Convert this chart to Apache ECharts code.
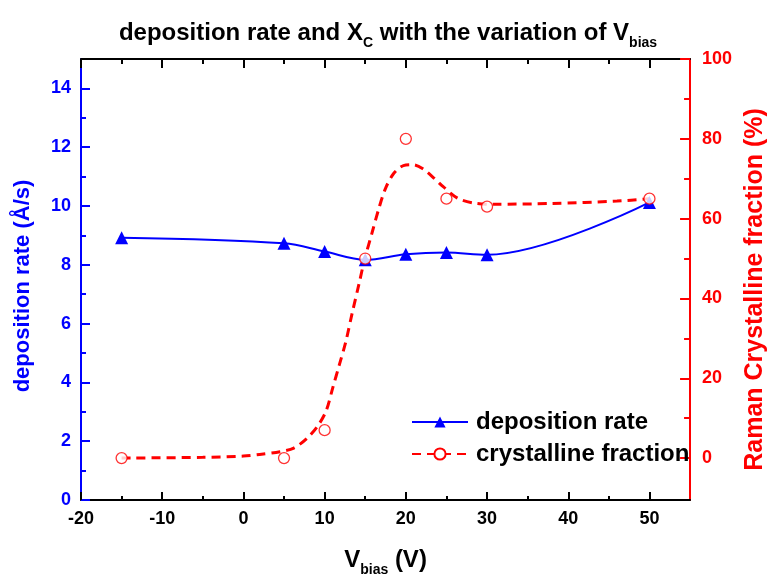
<!DOCTYPE html>
<html><head><meta charset="utf-8">
<script src="https://cdn.jsdelivr.net/npm/echarts@6/dist/echarts.min.js"></script>
<style>html,body{margin:0;padding:0;background:#fff}#c{width:776px;height:582px}</style>
</head><body><div id="c"></div>
<script>
// ---- data ----
const vbias = [-15, 5, 10, 15, 20, 25, 30, 50];
const depRate = [8.92, 8.73, 8.45, 8.17, 8.36, 8.42, 8.34, 10.12];
const crystFrac = [0, 0, 7, 50, 80, 65, 63, 65];
// fitted (dashed) curve of crystalline fraction
const fitX = [-15, -5, 0, 2, 4.5, 6.2, 7.8, 9.2, 10.2, 11, 11.8, 12.6, 13.4, 14.25, 14.9, 15.9, 16.7, 17.5, 18.5, 19.7, 20.9, 22.1, 23.55, 24.6, 26.4, 28.4, 30.8, 38, 46, 50];
const fitY = [0, 0.2, 0.5, 0.9, 1.6, 2.5, 4.9, 8.2, 11.9, 17.6, 23.3, 29.1, 36.4, 43.8, 49.6, 56.9, 62.7, 67.6, 71.3, 73.3, 73.5, 72.5, 70.0, 68.0, 65.1, 63.9, 63.6, 63.8, 64.4, 65];
// tick labels
const xMajor = [-20, -10, 0, 10, 20, 30, 40, 50];
const xMinor = [-15, -5, 5, 15, 25, 35, 45];
const yLMajor = [0, 2, 4, 6, 8, 10, 12, 14];
const yLMinor = [1, 3, 5, 7, 9, 11, 13];
const yRMajor = [0, 20, 40, 60, 80, 100];
const yRMinor = [10, 30, 50, 70, 90];

const FONT = '"Liberation Sans", Arial, sans-serif';
const BLUE = '#0000ff', RED = '#ff0000', BLACK = '#000000';
const X_RANGE = [-20, 55], YL_RANGE = [0, 15], YR_RANGE = [-10.5, 100];

function xAxisDef(pos, ticks, len, showLine, showLabel, extra) {
  return Object.assign({
    type: 'value', position: pos, min: X_RANGE[0], max: X_RANGE[1],
    axisLine: { show: showLine, onZero: false, lineStyle: { color: BLACK, width: 2 } },
    axisTick: { show: true, inside: true, length: len, customValues: ticks, lineStyle: { color: BLACK, width: 2 } },
    axisLabel: showLabel ? { show: true, customValues: ticks, color: BLACK, fontSize: 18, fontWeight: 'bold', fontFamily: FONT, margin: 10 } : { show: false },
    splitLine: { show: false }, axisPointer: { show: false }
  }, extra || {});
}
function yAxisDef(pos, range, color, ticks, len, showLine, showLabel, margin, extra) {
  return Object.assign({
    type: 'value', position: pos, min: range[0], max: range[1],
    axisLine: { show: showLine, onZero: false, lineStyle: { color: color, width: 2 } },
    axisTick: { show: true, inside: true, length: len, customValues: ticks, lineStyle: { color: color, width: 2 } },
    axisLabel: showLabel ? { show: true, customValues: ticks, color: color, fontSize: 18, fontWeight: 'bold', fontFamily: FONT, margin: margin } : { show: false },
    splitLine: { show: false }, axisPointer: { show: false }
  }, extra || {});
}

const chart = echarts.init(document.getElementById('c'), null, { renderer: 'canvas' });
chart.setOption({
  animation: false,
  backgroundColor: '#ffffff',
  title: {
    left: 'center', top: 11,
    text: '{m|deposition rate and X}{s|C}{m| with the variation of V}{s|bias}',
    textStyle: {
      rich: {
        m: { fontSize: 24, fontWeight: 'bold', fontFamily: FONT, color: BLACK, lineHeight: 34, verticalAlign: 'middle' },
        s: { fontSize: 14, fontWeight: 'bold', fontFamily: FONT, color: BLACK, lineHeight: 16, verticalAlign: 'bottom' }
      }
    }
  },
  legend: {
    orient: 'vertical', left: 406, top: 405, padding: 5,
    itemWidth: 56, itemHeight: 14, itemGap: 8,
    data: ['deposition rate', 'crystalline fraction'],
    textStyle: { fontSize: 24, fontWeight: 'bold', fontFamily: FONT, color: BLACK, lineHeight: 24, padding: [0, 0, 0, 3] }
  },
  grid: { left: 81, right: 77, top: 59, bottom: 74, containLabel: false },
  xAxis: [
    xAxisDef('bottom', xMajor, 8, true, true, {
      name: '{m|V}{s|bias}{m| (V)}', nameLocation: 'middle', nameGap: 43,
      nameTextStyle: {
        rich: {
          m: { fontSize: 24, fontWeight: 'bold', fontFamily: FONT, color: BLACK, lineHeight: 34, verticalAlign: 'middle' },
          s: { fontSize: 14, fontWeight: 'bold', fontFamily: FONT, color: BLACK, lineHeight: 16, verticalAlign: 'bottom' }
        }
      }
    }),
    xAxisDef('bottom', xMinor, 4, false, false),
    xAxisDef('top', xMajor, 9, true, false),
    xAxisDef('top', xMinor, 5, false, false)
  ],
  yAxis: [
    yAxisDef('left', YL_RANGE, BLUE, yLMajor, 9, true, true, 10, {
      name: 'deposition rate (Å/s)', nameLocation: 'middle', nameGap: 47, nameRotate: 90,
      nameTextStyle: { color: BLUE, fontSize: 22, fontWeight: 'bold', fontFamily: FONT, padding: [0, 13, 0, 0] }
    }),
    yAxisDef('left', YL_RANGE, BLUE, yLMinor, 5, false, false, 10),
    yAxisDef('right', YR_RANGE, RED, yRMajor, 10, true, true, 12, {
      name: 'Raman Crystalline fraction (%)', nameLocation: 'middle', nameGap: 50, nameRotate: 90,
      nameTextStyle: { color: RED, fontSize: 25, fontWeight: 'bold', fontFamily: FONT, padding: [0, 20, 0, 0] }
    }),
    yAxisDef('right', YR_RANGE, RED, yRMinor, 6, false, false, 12)
  ],
  series: [
    {
      name: 'deposition rate', type: 'line', xAxisIndex: 0, yAxisIndex: 0,
      data: vbias.map((x, i) => [x, depRate[i]]),
      smooth: 0.35, symbol: 'triangle', symbolSize: 13,
      itemStyle: { color: BLUE }, lineStyle: { color: BLUE, width: 2 }, z: 3
    },
    {
      name: 'crystalline fraction', type: 'line', xAxisIndex: 0, yAxisIndex: 2,
      data: fitX.map((x, i) => [x, fitY[i]]),
      smooth: 0.3, showSymbol: false, symbol: 'emptyCircle', symbolSize: 11,
      itemStyle: { color: RED }, lineStyle: { color: RED, width: 3, type: [9, 6] }, z: 2
    },
    {
      name: 'crystalline fraction points', type: 'scatter', xAxisIndex: 0, yAxisIndex: 2,
      data: vbias.map((x, i) => [x, crystFrac[i]]),
      symbol: 'circle', symbolSize: 11,
      itemStyle: { color: '#ffffff', borderColor: RED, borderWidth: 1.3 }, z: 4
    }
  ]
});
</script>
</body></html>
